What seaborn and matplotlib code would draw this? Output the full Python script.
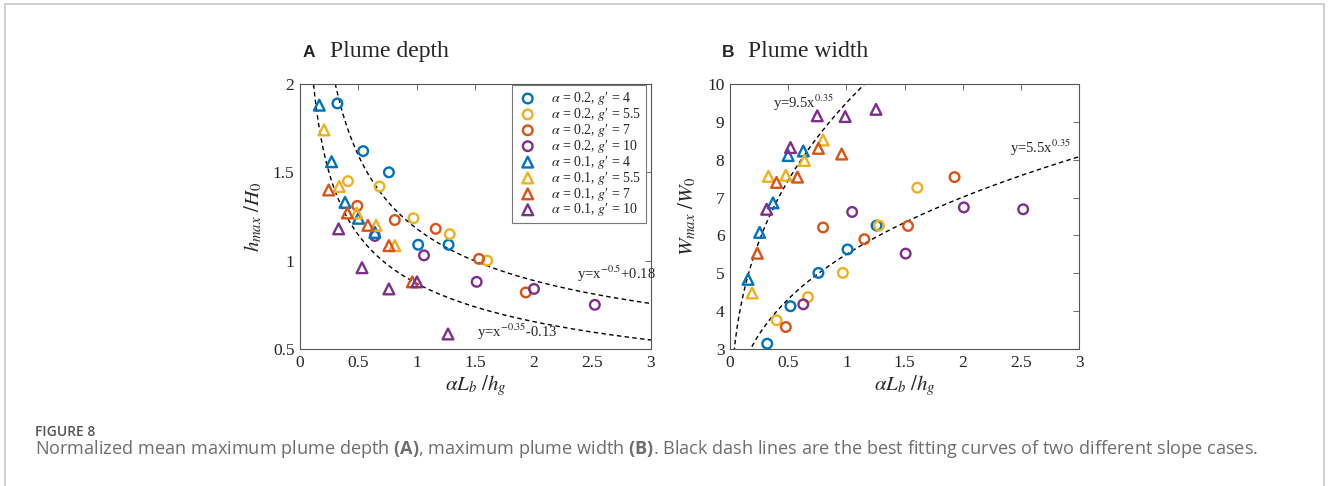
"""
Figura 8: profundidad y anchura máxima normalizadas de la pluma.
"""

import matplotlib
matplotlib.use('Agg')
import matplotlib.pyplot as plt
from matplotlib.lines import Line2D
import seaborn as sns
import numpy as np
import pandas as pd

# --- Valores -----------------------------------------------------------------
G_VALORES = [4, 5.5, 7, 10]
ALFAS = [0.2, 0.1]

# Panel A: profundidad (h_max/H_0)
A_x_a02 = [[0.32, 0.54, 0.76, 1.01, 1.27],
           [0.41, 0.68, 0.97, 1.28, 1.60],
           [0.49, 0.81, 1.16, 1.53, 1.93],
           [0.64, 1.06, 1.51, 2.00, 2.52]]
A_y_a02 = [[1.89, 1.62, 1.50, 1.09, 1.09],
           [1.45, 1.42, 1.24, 1.15, 1.00],
           [1.31, 1.23, 1.18, 1.01, 0.82],
           [1.14, 1.03, 0.88, 0.84, 0.75]]
A_x_a01 = [[0.165, 0.27, 0.385, 0.50, 0.64],
           [0.205, 0.335, 0.485, 0.65, 0.81],
           [0.245, 0.405, 0.58, 0.76, 0.96],
           [0.33, 0.53, 0.76, 1.00, 1.265]]
A_y_a01 = [[1.88, 1.56, 1.33, 1.24, 1.16],
           [1.74, 1.42, 1.27, 1.20, 1.085],
           [1.40, 1.27, 1.20, 1.085, 0.88],
           [1.18, 0.96, 0.84, 0.88, 0.585]]

# Panel B: anchura (W_max/W_0)
B_x_a02 = [[0.32, 0.52, 0.76, 1.01, 1.26],
           [0.40, 0.67, 0.97, 1.28, 1.61],
           [0.48, 0.80, 1.155, 1.53, 1.93],
           [0.63, 1.05, 1.51, 2.01, 2.52]]
B_y_a02 = [[3.14, 4.13, 5.01, 5.63, 6.26],
           [3.76, 4.37, 5.01, 6.26, 7.26],
           [3.58, 6.21, 5.90, 6.25, 7.54],
           [4.18, 6.62, 5.52, 6.74, 6.69]]
B_x_a01 = [[0.155, 0.255, 0.37, 0.50, 0.63],
           [0.19, 0.33, 0.48, 0.64, 0.80],
           [0.235, 0.40, 0.58, 0.76, 0.96],
           [0.315, 0.52, 0.75, 0.99, 1.255]]
B_y_a01 = [[4.84, 6.08, 6.86, 8.11, 8.23],
           [4.48, 7.56, 7.59, 7.98, 8.52],
           [5.53, 7.40, 7.54, 8.30, 8.15],
           [6.69, 8.32, 9.16, 9.14, 9.33]]

# Curvas de ajuste (coeficientes de las etiquetas)
A_ajuste_sup = (-0.5, 0.18)    # y = x^p + c
A_ajuste_inf = (-0.35, -0.13)
B_ajuste_sup = (9.5, 0.35)     # y = k x^p
B_ajuste_inf = (5.5, 0.35)

COLORES = {4: '#0072BD', 5.5: '#EDB120', 7: '#D95319', 10: '#7E2F8E'}
MARCADORES = {0.2: 'o', 0.1: '^'}


def armar_df(x_a02, y_a02, x_a01, y_a01):
    filas = []
    for alfa, xs, ys in [(0.2, x_a02, y_a02), (0.1, x_a01, y_a01)]:
        for g, xg, yg in zip(G_VALORES, xs, ys):
            for xv, yv in zip(xg, yg):
                filas.append({'x': xv, 'y': yv, 'alpha': alfa, 'g': g})
    return pd.DataFrame(filas)


def etiqueta(alfa, g):
    return "$\\alpha$ = %g, $g$\u2032 = %g" % (alfa, g)


def dibujar_puntos(ax, df):
    for alfa in ALFAS:
        for g in G_VALORES:
            sub = df[(df['alpha'] == alfa) & (df['g'] == g)]
            sns.scatterplot(data=sub, x='x', y='y', ax=ax,
                            marker=MARCADORES[alfa], s=48 if alfa == 0.2 else 60,
                            color=COLORES[g], facecolor='none',
                            edgecolor=COLORES[g], linewidth=1.7,
                            label=etiqueta(alfa, g), legend=False, zorder=3)


def estilo_ejes(ax, ylim, yticks):
    ax.set_xlim(0, 3)
    ax.set_ylim(*ylim)
    ax.set_xticks(np.arange(0, 3.01, 0.5))
    ax.set_yticks(yticks)
    ax.xaxis.set_major_formatter(matplotlib.ticker.FormatStrFormatter('%g'))
    ax.yaxis.set_major_formatter(matplotlib.ticker.FormatStrFormatter('%g'))
    ax.tick_params(direction='in', top=True, right=True, length=4, width=0.6,
                   color='#555555', labelcolor='#262626', labelsize=12.5, pad=4)
    for s in ax.spines.values():
        s.set_visible(True)
        s.set_color('#555555')
        s.set_linewidth(0.8)


sns.set_style('white')
plt.rcParams['font.family'] = ['Liberation Serif', 'DejaVu Serif']
plt.rcParams['mathtext.fontset'] = 'custom'
plt.rcParams['mathtext.rm'] = 'Open Sans'
plt.rcParams['mathtext.it'] = 'Open Sans:italic'
plt.rcParams['mathtext.bf'] = 'Open Sans:bold'

fig = plt.figure(figsize=(13.28, 4.86), dpi=100)
axA = fig.add_axes([0.2259, 0.2819, 0.2643, 0.5453])
axB = fig.add_axes([0.5497, 0.2819, 0.2628, 0.5453])

df_A = armar_df(A_x_a02, A_y_a02, A_x_a01, A_y_a01)
df_B = armar_df(B_x_a02, B_y_a02, B_x_a01, B_y_a01)

guion = dict(color='black', lw=1.0, ls=(0, (3.2, 2.4)), zorder=2)
xs = np.linspace(0.01, 3, 600)

# Panel A
axA.plot(xs, xs ** A_ajuste_sup[0] + A_ajuste_sup[1], **guion)
axA.plot(xs, xs ** A_ajuste_inf[0] + A_ajuste_inf[1], **guion)
dibujar_puntos(axA, df_A)
estilo_ejes(axA, (0.5, 2), [0.5, 1, 1.5, 2])
axA.set_xlabel(r'$\alpha L_b\ /h_g$', fontsize=15, math_fontfamily='stix', labelpad=2)
axA.set_ylabel(r'$h_{max}\ /H_0$', fontsize=15, math_fontfamily='stix', labelpad=6)
axA.text(2.37, 0.896, r'y=x$^{-0.5}$+0.18', fontsize=10.5, math_fontfamily='stix')
axA.text(1.51, 0.568, r'y=x$^{-0.35}$-0.13', fontsize=10.5, math_fontfamily='stix')
leg = axA.legend(loc='upper right', bbox_to_anchor=(0.985, 0.995), fontsize=10,
                 frameon=True, fancybox=False, framealpha=1, edgecolor='#777777',
                 labelspacing=-0.08, handletextpad=0.9, borderpad=0.35,
                 handlelength=1.5, borderaxespad=0)
leg.get_frame().set_linewidth(0.8)
for t in leg.get_texts():
    t.set_math_fontfamily('stix')

# Panel B
axB.plot(xs, B_ajuste_sup[0] * xs ** B_ajuste_sup[1], **guion)
axB.plot(xs, B_ajuste_inf[0] * xs ** B_ajuste_inf[1], **guion)
dibujar_puntos(axB, df_B)
estilo_ejes(axB, (3, 10), list(range(3, 11)))
axB.set_xlabel(r'$\alpha L_b\ /h_g$', fontsize=15, math_fontfamily='stix', labelpad=2)
axB.set_ylabel(r'$W_{max}\ /W_0$', fontsize=15, math_fontfamily='stix', labelpad=6)
axB.text(0.368, 9.36, r'y=9.5x$^{0.35}$', fontsize=10.5, math_fontfamily='stix')
axB.text(2.405, 8.19, r'y=5.5x$^{0.35}$', fontsize=10.5, math_fontfamily='stix')

# Títulos de panel
fig.text(303 / 1328, 1 - 57 / 486, 'A', fontsize=12.5, fontweight='bold',
         family='Liberation Sans', va='baseline')
fig.text(330 / 1328, 1 - 57 / 486, 'Plume depth', fontsize=17, va='baseline')
fig.text(722 / 1328, 1 - 57 / 486, 'B', fontsize=12.5, fontweight='bold',
         family='Liberation Sans', va='baseline')
fig.text(748 / 1328, 1 - 57 / 486, 'Plume width', fontsize=17, va='baseline')

# Pie de figura
fig.text(35 / 1328, 1 - 432 / 486, 'FIGURE 8', fontsize=10, fontweight='semibold',
         family='Open Sans', color='#555555', va='center')
fig.text(35 / 1328, 1 - 449 / 486,
         r'Normalized mean maximum plume depth $\mathbf{(A)}$, maximum plume width '
         r'$\mathbf{(B)}$. Black dash lines are the best fitting curves of two '
         r'different slope cases.',
         fontsize=13.1, family='Open Sans', color='#6e6e6e', va='center',
         math_fontfamily='custom')

# Marco exterior
marco = dict(color='#c8c8c8', lw=1.2, transform=fig.transFigure)
fig.add_artist(Line2D([4.5 / 1328, 4.5 / 1328], [0, 1 - 4.5 / 486], **marco))
fig.add_artist(Line2D([4.5 / 1328, 1323.5 / 1328], [1 - 4.5 / 486] * 2, **marco))
fig.add_artist(Line2D([1323.5 / 1328] * 2, [0, 1 - 4.5 / 486], **marco))

fig.savefig('out.png', dpi=100)
plt.close(fig)
